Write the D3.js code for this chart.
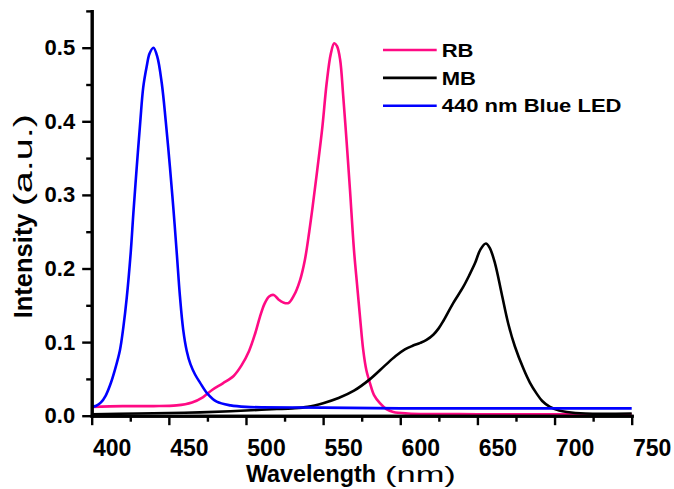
<!DOCTYPE html>
<html>
<head>
<meta charset="utf-8">
<script src="https://cdn.jsdelivr.net/npm/d3@7/dist/d3.min.js"></script>
<style>
  html, body { margin: 0; padding: 0; background: #fff; }
  svg { display: block; font-family: "Liberation Sans", Arial, sans-serif; }
</style>
</head>
<body>
<svg id="chart" width="674" height="489"></svg>
<script>
// ---------- data ----------
const seriesNames = ["RB", "MB", "440 nm Blue LED"];
const seriesColors = ["#ff0a84", "#000000", "#0000ff"];

const rbWavelength = [400,420,440,455,465,472,478,485,492,497,502,506,509,512,515,518,521,524,527.5,531,535,538.2,541,543.2,546.2,549.5,552.3,555,557.2,559,561,563,565.3,567.4,570,572,574,576,578,580.4,583,586.8,591,595.5,605,650,700,750];
const rbIntensity  = [0.012,0.013,0.013,0.014,0.018,0.025,0.035,0.044,0.054,0.068,0.088,0.112,0.134,0.152,0.162,0.164,0.158,0.154,0.153,0.163,0.184,0.212,0.25,0.284,0.334,0.392,0.452,0.492,0.506,0.502,0.484,0.435,0.370,0.307,0.225,0.178,0.132,0.089,0.062,0.044,0.028,0.017,0.009,0.005,0.003,0.002,0.002,0.002];

const mbWavelength = [400,430,460,490,510,520,530,540,550,560,570,580,590,597,603,608,613,617,621.4,625,628,634.3,640.8,645,648.4,652,655.5,658,661.4,665.7,670,674.3,680,684,688.4,692,697,703,708,720,750];
const mbIntensity  = [0.002,0.003,0.004,0.006,0.008,0.009,0.010,0.012,0.017,0.024,0.034,0.049,0.068,0.081,0.090,0.095,0.099,0.103,0.110,0.119,0.129,0.153,0.175,0.192,0.207,0.226,0.234,0.228,0.207,0.166,0.125,0.094,0.063,0.045,0.030,0.020,0.012,0.007,0.005,0.003,0.003];

const blueWavelength = [400,403,406,409,412,415,418.3,420.5,422.7,425.3,427,429.2,431.5,433.4,435.6,437.5,440,442.5,445.4,448,450.7,453,455.1,457.2,459.3,461.6,464,467,470.2,475,481,490,500,550,600,650,700,750];
const blueIntensity  = [0.012,0.0135,0.018,0.027,0.042,0.062,0.089,0.12,0.160,0.222,0.275,0.338,0.40,0.446,0.474,0.492,0.500,0.488,0.452,0.40,0.338,0.28,0.222,0.162,0.117,0.088,0.070,0.056,0.045,0.030,0.019,0.014,0.012,0.011,0.010,0.010,0.010,0.010];

const xMajorTicks = [400,450,500,550,600,650,700,750];
const xMinorTicks = [425,475,525,575,625,675,725];
const yMajorTicks = [0.0,0.1,0.2,0.3,0.4,0.5];
const yMinorTicks = [0.05,0.15,0.25,0.35,0.45,0.55];

const xTitleBold = "Wavelength", xTitleUnit = "(nm)";
const yTitleBold = "Intensity", yTitleUnit = "(a.u.)";

// ---------- layout ----------
const svg = d3.select("#chart");
const x = d3.scaleLinear().domain([400, 750]).range([91.7, 631.7]);
const y = d3.scaleLinear().domain([0, 0.55]).range([415.7, 10.9]);

const series = [
  {name: seriesNames[0], color: seriesColors[0], xs: rbWavelength, ys: rbIntensity},
  {name: seriesNames[1], color: seriesColors[1], xs: mbWavelength, ys: mbIntensity},
  {name: seriesNames[2], color: seriesColors[2], xs: blueWavelength, ys: blueIntensity}
];

const line = d3.line()
  .x(d => x(d[0]))
  .y(d => y(d[1]))
  .curve(d3.curveCatmullRom.alpha(0.5));

const plot = svg.append("g");
series.forEach(s => {
  plot.append("path")
    .datum(s.xs.map((w, i) => [w, s.ys[i]]))
    .attr("fill", "none")
    .attr("stroke", s.color)
    .attr("stroke-width", 2.6)
    .attr("stroke-linejoin", "round")
    .attr("d", line);
});

// ---------- axes ----------
function styleAxis(g) {
  g.select(".domain").attr("stroke", "#000").attr("stroke-width", 3).attr("stroke-linecap", "square");
  g.selectAll(".tick line").attr("stroke", "#000").attr("stroke-width", 2.4);
}

// x axis
const xMinor = svg.append("g").attr("transform", `translate(0,${y(0)})`)
  .call(d3.axisBottom(x).tickValues(xMinorTicks).tickSize(6).tickSizeOuter(0).tickFormat(""));
styleAxis(xMinor);
const xMajor = svg.append("g").attr("transform", `translate(0,${y(0)})`)
  .call(d3.axisBottom(x).tickValues(xMajorTicks).tickSize(9.5).tickSizeOuter(0).tickPadding(14).tickFormat(d3.format("d")));
styleAxis(xMajor);
xMajor.selectAll(".tick text")
  .attr("dx", 20)
  .attr("fill", "#000")
  .style("font-size", "23px").style("font-weight", "bold");

// y axis
const yMinor = svg.append("g").attr("transform", `translate(${x(400)},0)`)
  .call(d3.axisLeft(y).tickValues(yMinorTicks).tickSize(5.5).tickSizeOuter(0).tickFormat(""));
styleAxis(yMinor);
const yMajor = svg.append("g").attr("transform", `translate(${x(400)},0)`)
  .call(d3.axisLeft(y).tickValues(yMajorTicks).tickSize(9.5).tickSizeOuter(0).tickPadding(7).tickFormat(d3.format(".1f")));
styleAxis(yMajor);
yMajor.selectAll(".tick text")
  .attr("fill", "#000")
  .style("font-size", "22px").style("font-weight", "bold");

// ---------- axis titles ----------
const xt = svg.append("g").attr("transform", "translate(246,482)");
xt.append("text").attr("x", 0).attr("y", 0)
  .style("font-size", "23.3px").style("font-weight", "bold").attr("fill", "#000")
  .text(xTitleBold);
xt.append("text").attr("transform", "translate(139,0) scale(1.5,1)")
  .style("font-size", "23px").attr("fill", "#000")
  .text(xTitleUnit);

const yt = svg.append("g").attr("transform", "translate(31.7,318.3) rotate(-90)");
yt.append("text").attr("x", 0).attr("y", 0)
  .style("font-size", "25.5px").style("font-weight", "bold").attr("fill", "#000")
  .text(yTitleBold);
yt.append("text").attr("transform", "translate(112,0) scale(1.55,1)")
  .style("font-size", "25.5px").attr("fill", "#000")
  .text(yTitleUnit);

// ---------- legend ----------
const legend = svg.append("g").attr("transform", "translate(383,50)");
series.forEach((s, i) => {
  const row = legend.append("g").attr("transform", `translate(0,${i * 27.85})`);
  row.append("line").attr("x1", 0).attr("x2", 53.7).attr("y1", 0).attr("y2", 0)
    .attr("stroke", s.color).attr("stroke-width", 2.6);
  row.append("text").attr("transform", "translate(58.7,6.7) scale(1.19,1)")
    .style("font-size", "18.5px").style("font-weight", "bold").attr("fill", "#000")
    .text(s.name);
});
</script>
</body>
</html>
